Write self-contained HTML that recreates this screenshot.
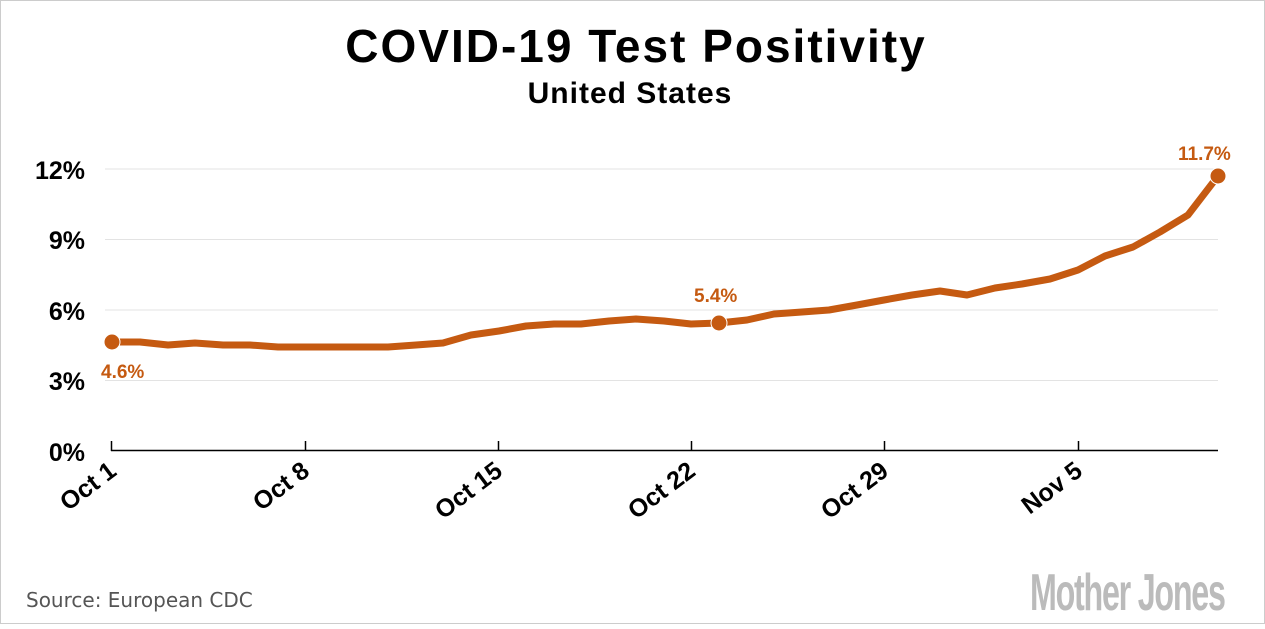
<!DOCTYPE html>
<html><head><meta charset="utf-8"><style>
html,body{margin:0;padding:0;background:#fff;}
body{width:1265px;height:624px;overflow:hidden;}
</style></head><body>
<svg width="1265" height="624" xmlns="http://www.w3.org/2000/svg" font-family="Liberation Sans, sans-serif">
<rect x="0.5" y="0.5" width="1264" height="623" fill="#fff" stroke="#ccc"/>
<text x="636" y="62" text-anchor="middle" font-size="46" font-weight="bold" fill="#000" letter-spacing="2">COVID-19 Test Positivity</text>
<text x="630" y="103" text-anchor="middle" font-size="30" font-weight="bold" fill="#000" letter-spacing="1">United States</text>
<g stroke="#e3e3e3" stroke-width="1">
<line x1="105" x2="1218" y1="169" y2="169"/>
<line x1="105" x2="1218" y1="239.5" y2="239.5"/>
<line x1="105" x2="1218" y1="310" y2="310"/>
<line x1="105" x2="1218" y1="380.5" y2="380.5"/>
</g>
<g font-size="25" font-weight="bold" fill="#000" text-anchor="end">
<text x="85" y="179">12%</text>
<text x="85" y="249">9%</text>
<text x="85" y="320">6%</text>
<text x="85" y="390">3%</text>
<text x="85" y="461">0%</text>
</g>
<g stroke="#000" stroke-width="1.5">
<line x1="111" x2="1218" y1="450.5" y2="450.5"/>
<line x1="111.5" x2="111.5" y1="441" y2="451"/>
<line x1="305.5" x2="305.5" y1="441" y2="451"/>
<line x1="498.5" x2="498.5" y1="441" y2="451"/>
<line x1="691.5" x2="691.5" y1="441" y2="451"/>
<line x1="884.5" x2="884.5" y1="441" y2="451"/>
<line x1="1078.5" x2="1078.5" y1="441" y2="451"/>
</g>
<g font-size="25" font-weight="bold" fill="#000" text-anchor="end">
<text transform="translate(118,474) rotate(-37)">Oct 1</text>
<text transform="translate(311,474) rotate(-37)">Oct 8</text>
<text transform="translate(504,474) rotate(-37)">Oct 15</text>
<text transform="translate(697,474) rotate(-37)">Oct 22</text>
<text transform="translate(890,474) rotate(-37)">Oct 29</text>
<text transform="translate(1084,474) rotate(-37)">Nov 5</text>
</g>
<polyline fill="none" stroke="#c55a11" stroke-width="7" stroke-linejoin="round" points="113,342 140,342 168,345 195,343 223,345 250,345 278,347 306,347 333,347 361,347 388,347 416,345 443,343 471,335 499,331 526,326 554,324 581,324 609,321 636,319 664,321 691,324 719,323 747,320 774,314 802,312 829,310 857,305 884,300 912,295 940,291 967,295 995,288 1022,284 1050,279 1078,270 1105,256 1133,247 1160,232 1188,215 1218,176"/>
<circle cx="112" cy="342" r="8" fill="#c55a11" stroke="#fff" stroke-width="1"/>
<circle cx="719" cy="323" r="8" fill="#c55a11" stroke="#fff" stroke-width="1"/>
<circle cx="1218" cy="176" r="8" fill="#c55a11" stroke="#fff" stroke-width="1"/>
<g font-size="19" font-weight="bold" fill="#c55a11">
<text x="101" y="378">4.6%</text>
<text x="694" y="302">5.4%</text>
<text x="1178" y="160">11.7%</text>
</g>
<text x="26" y="607" font-size="20" fill="#555" font-family="DejaVu Sans, sans-serif">Source: European CDC</text>
<text transform="translate(1030,610) scale(0.62,1)" font-size="52" font-weight="bold" fill="#bbb" letter-spacing="-2">Mother Jones</text>
</svg>
</body></html>
